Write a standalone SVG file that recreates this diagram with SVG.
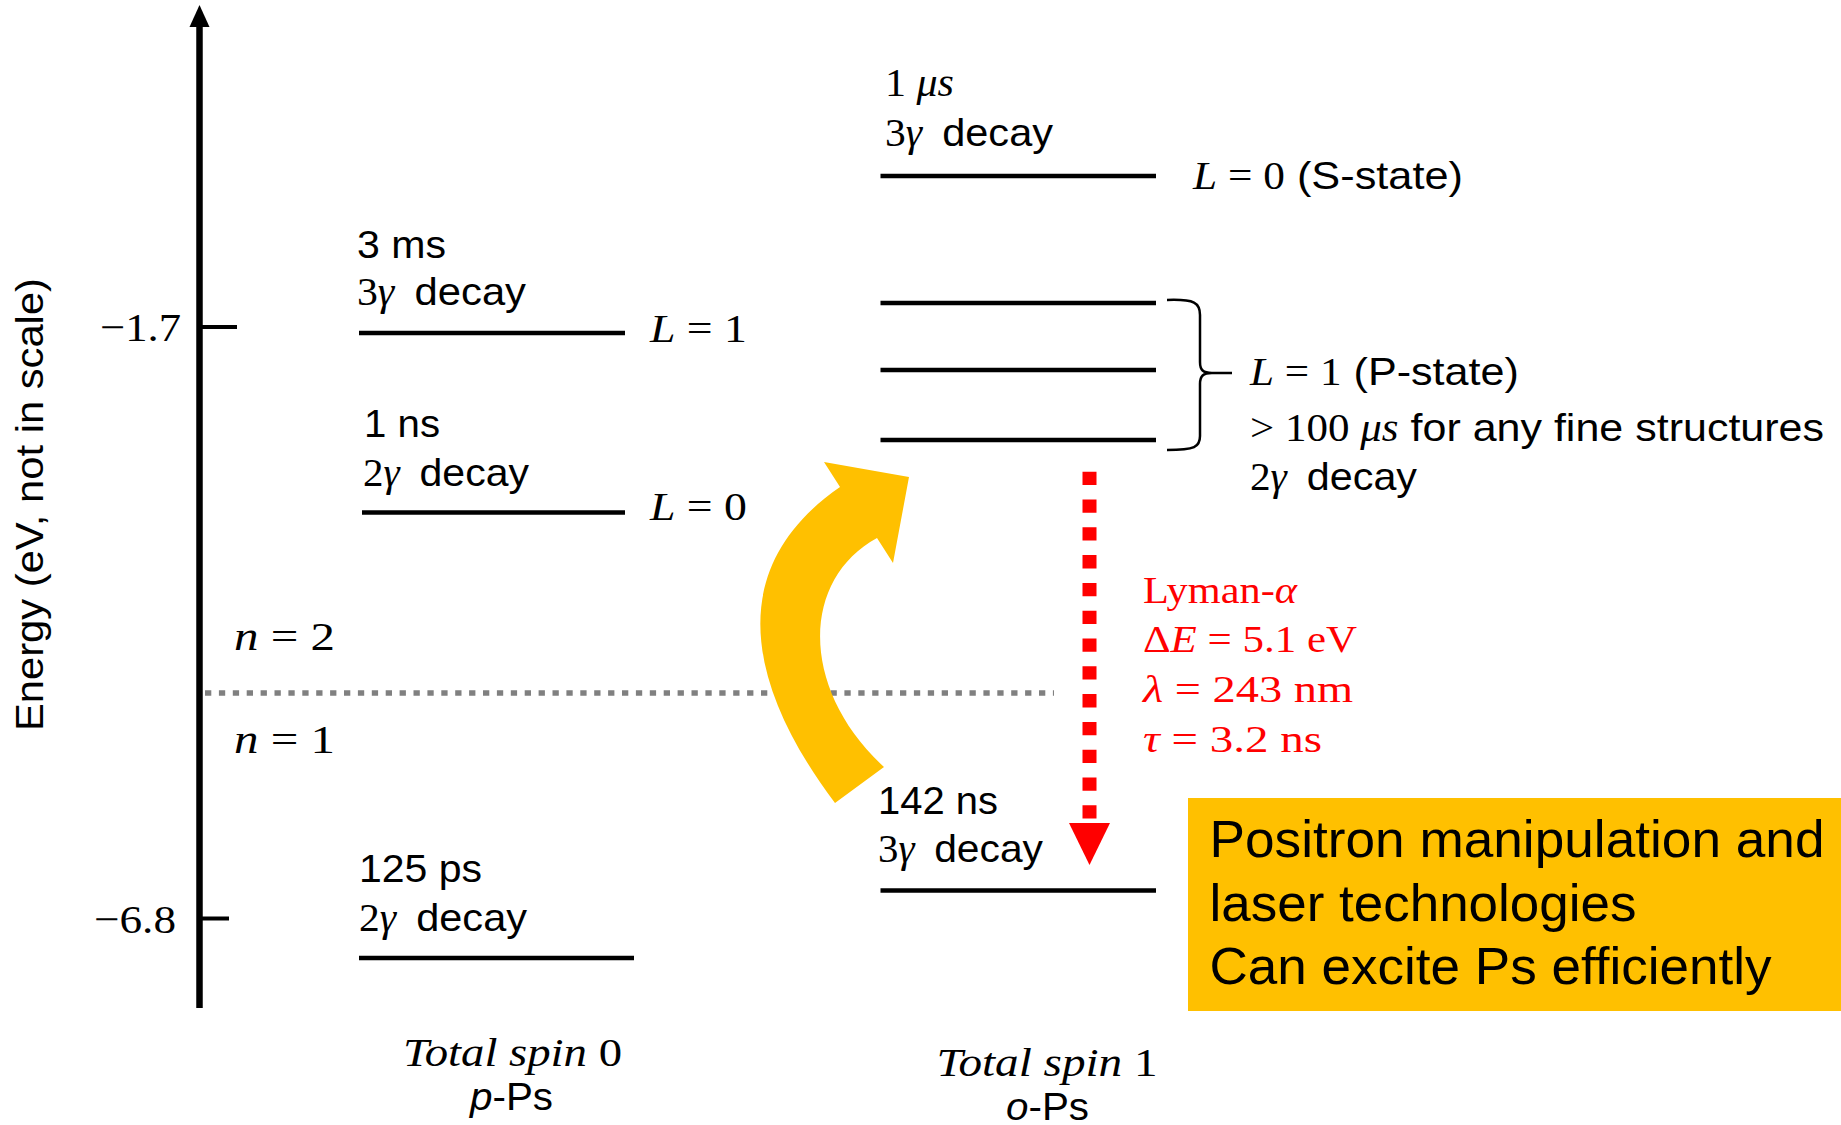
<svg xmlns="http://www.w3.org/2000/svg" width="1841" height="1125" viewBox="0 0 1841 1125">
  <style>
    .lvl{stroke:#000;stroke-width:4.5;fill:none}
    .tick{stroke:#000;stroke-width:4;fill:none}
    .sans{font-family:"Liberation Sans",Arial,sans-serif;font-size:39px;fill:#000}
    .box{font-family:"Liberation Sans",Arial,sans-serif;font-size:52px;fill:#000}
    .lab{font-family:"Liberation Serif","Times New Roman",serif;font-size:41px;fill:#000}
    .m{font-family:"Liberation Serif","Times New Roman",serif}
    .i{font-style:italic}
    .red{fill:#ff0000;font-size:38px}
  </style>
  <rect width="1841" height="1125" fill="#ffffff"/>

  <!-- energy axis with ticks -->
  <g id="energy-axis">
    <line x1="199.5" y1="1008" x2="199.5" y2="22" stroke="#000" stroke-width="6.5"/>
    <polygon points="199.5,5 189.5,27 209.5,27" fill="#000"/>
    <line class="tick" x1="199.5" y1="327" x2="237" y2="327"/>
    <line class="tick" x1="199.5" y1="918.5" x2="229" y2="918.5"/>
    <text class="lab" x="100" y="341" textLength="81" lengthAdjust="spacingAndGlyphs">−1.7</text>
    <text class="lab" x="94" y="933" textLength="82" lengthAdjust="spacingAndGlyphs">−6.8</text>
    <text class="sans" font-size="41" transform="translate(43,504.5) rotate(-90)" text-anchor="middle" textLength="453" lengthAdjust="spacingAndGlyphs">Energy (eV, not in scale)</text>
  </g>

  <!-- n = 2 / n = 1 boundary -->
  <g id="shell-boundary">
    <line x1="205" y1="693" x2="1054" y2="693" stroke="#808080" stroke-width="5.7" stroke-dasharray="6.3 7.6"/>
    <text class="lab" x="234" y="650" textLength="101" lengthAdjust="spacingAndGlyphs"><tspan class="i">n</tspan> = 2</text>
    <text class="lab" x="234" y="753" textLength="101" lengthAdjust="spacingAndGlyphs"><tspan class="i">n</tspan> = 1</text>
  </g>

  <!-- para-positronium levels -->
  <g id="pPs-2P">
    <line class="lvl" x1="359" y1="333" x2="625" y2="333"/>
    <text class="sans" x="357" y="258" textLength="89" lengthAdjust="spacingAndGlyphs">3 ms</text>
    <text class="sans" x="357" y="305" textLength="169" lengthAdjust="spacingAndGlyphs"><tspan class="m">3</tspan><tspan class="m i">γ</tspan><tspan dx="8"> decay</tspan></text>
    <text class="lab" x="650" y="341.5" textLength="97" lengthAdjust="spacingAndGlyphs"><tspan class="i">L</tspan> = 1</text>
  </g>
  <g id="pPs-2S">
    <line class="lvl" x1="362" y1="512.5" x2="625" y2="512.5"/>
    <text class="sans" x="364" y="437" textLength="76" lengthAdjust="spacingAndGlyphs">1 ns</text>
    <text class="sans" x="363" y="486" textLength="166" lengthAdjust="spacingAndGlyphs"><tspan class="m">2</tspan><tspan class="m i">γ</tspan><tspan dx="8"> decay</tspan></text>
    <text class="lab" x="650" y="520" textLength="97" lengthAdjust="spacingAndGlyphs"><tspan class="i">L</tspan> = 0</text>
  </g>
  <g id="pPs-1S">
    <line class="lvl" x1="359" y1="958" x2="634" y2="958"/>
    <text class="sans" x="359" y="882" textLength="123" lengthAdjust="spacingAndGlyphs">125 ps</text>
    <text class="sans" x="359" y="931" textLength="168" lengthAdjust="spacingAndGlyphs"><tspan class="m">2</tspan><tspan class="m i">γ</tspan><tspan dx="8"> decay</tspan></text>
  </g>
  <g id="pPs-caption">
    <text class="lab" font-size="38" x="403" y="1066" textLength="219" lengthAdjust="spacingAndGlyphs"><tspan class="i">Total spin</tspan> 0</text>
    <text class="sans" x="470" y="1110" textLength="83" lengthAdjust="spacingAndGlyphs"><tspan class="i">p</tspan>-Ps</text>
  </g>

  <!-- ortho-positronium levels -->
  <g id="oPs-2S">
    <line class="lvl" x1="880.5" y1="176" x2="1156" y2="176"/>
    <text class="lab" font-size="39" x="885" y="96" textLength="69" lengthAdjust="spacingAndGlyphs">1 <tspan class="i">μs</tspan></text>
    <text class="sans" x="885" y="146" textLength="168" lengthAdjust="spacingAndGlyphs"><tspan class="m">3</tspan><tspan class="m i">γ</tspan><tspan dx="8"> decay</tspan></text>
    <text class="sans" x="1193" y="189" textLength="270" lengthAdjust="spacingAndGlyphs"><tspan class="m i">L</tspan><tspan class="m"> = 0</tspan> (S-state)</text>
  </g>
  <g id="oPs-2P">
    <line class="lvl" x1="880.5" y1="303" x2="1156" y2="303"/>
    <line class="lvl" x1="880.5" y1="370" x2="1156" y2="370"/>
    <line class="lvl" x1="880.5" y1="440" x2="1156" y2="440"/>
    <path d="M1167,300 C1195,299 1200,303 1200,315 L1200,362 C1200,370 1203,373 1212,373 L1232,373 M1212,373 C1203,373 1200,376 1200,384 L1200,436 C1200,447 1195,450 1167,450" fill="none" stroke="#000" stroke-width="2.5"/>
    <text class="sans" x="1250" y="385" textLength="269" lengthAdjust="spacingAndGlyphs"><tspan class="m i">L</tspan><tspan class="m"> = 1</tspan> (P-state)</text>
    <text class="sans" x="1250" y="441" textLength="574" lengthAdjust="spacingAndGlyphs"><tspan class="m">&gt; 100 </tspan><tspan class="m i">μs</tspan> for any fine structures</text>
    <text class="sans" x="1250" y="490" textLength="167" lengthAdjust="spacingAndGlyphs"><tspan class="m">2</tspan><tspan class="m i">γ</tspan><tspan dx="8"> decay</tspan></text>
  </g>
  <g id="oPs-1S">
    <line class="lvl" x1="880.5" y1="890.5" x2="1156" y2="890.5"/>
    <text class="sans" x="878" y="813.5" textLength="120" lengthAdjust="spacingAndGlyphs">142 ns</text>
    <text class="sans" x="878" y="862" textLength="165" lengthAdjust="spacingAndGlyphs"><tspan class="m">3</tspan><tspan class="m i">γ</tspan><tspan dx="8"> decay</tspan></text>
  </g>
  <g id="oPs-caption">
    <text class="lab" font-size="38" x="936.5" y="1075.5" textLength="221" lengthAdjust="spacingAndGlyphs"><tspan class="i">Total spin</tspan> 1</text>
    <text class="sans" x="1006" y="1120" textLength="83" lengthAdjust="spacingAndGlyphs"><tspan class="i">o</tspan>-Ps</text>
  </g>

  <!-- transitions -->
  <g id="connectors">
    <g id="lyman-alpha">
      <line x1="1089.5" y1="471.7" x2="1089.5" y2="819" stroke="#ff0000" stroke-width="14" stroke-dasharray="13.3 14.5"/>
      <polygon points="1069,823 1110,823 1089.5,865" fill="#ff0000"/>
    </g>
    <path id="excitation" d="M835,803 C750,690 720,570 840,487 L824,462 L909,477 L893,563 L877,538 C800,580 800,690 884,767 Z" fill="#ffc000"/>
  </g>

  <g id="lyman-label">
    <text class="lab red" x="1143" y="603" textLength="154" lengthAdjust="spacingAndGlyphs">Lyman-<tspan class="i">α</tspan></text>
    <text class="lab red" x="1143" y="652" textLength="214" lengthAdjust="spacingAndGlyphs">Δ<tspan class="i">E</tspan> = 5.1 eV</text>
    <text class="lab red" x="1143" y="702" textLength="210" lengthAdjust="spacingAndGlyphs"><tspan class="i">λ</tspan> = 243 nm</text>
    <text class="lab red" x="1143" y="752" textLength="179" lengthAdjust="spacingAndGlyphs"><tspan class="i">τ</tspan> = 3.2 ns</text>
  </g>

  <!-- callout -->
  <g id="callout">
    <rect x="1188" y="798" width="653" height="213" fill="#ffc000"/>
    <text class="box" x="1209.5" y="857" textLength="615" lengthAdjust="spacingAndGlyphs">Positron manipulation and</text>
    <text class="box" x="1209.5" y="920.5" textLength="427" lengthAdjust="spacingAndGlyphs">laser technologies</text>
    <text class="box" x="1209.5" y="984" textLength="562" lengthAdjust="spacingAndGlyphs">Can excite Ps efficiently</text>
  </g>
</svg>
